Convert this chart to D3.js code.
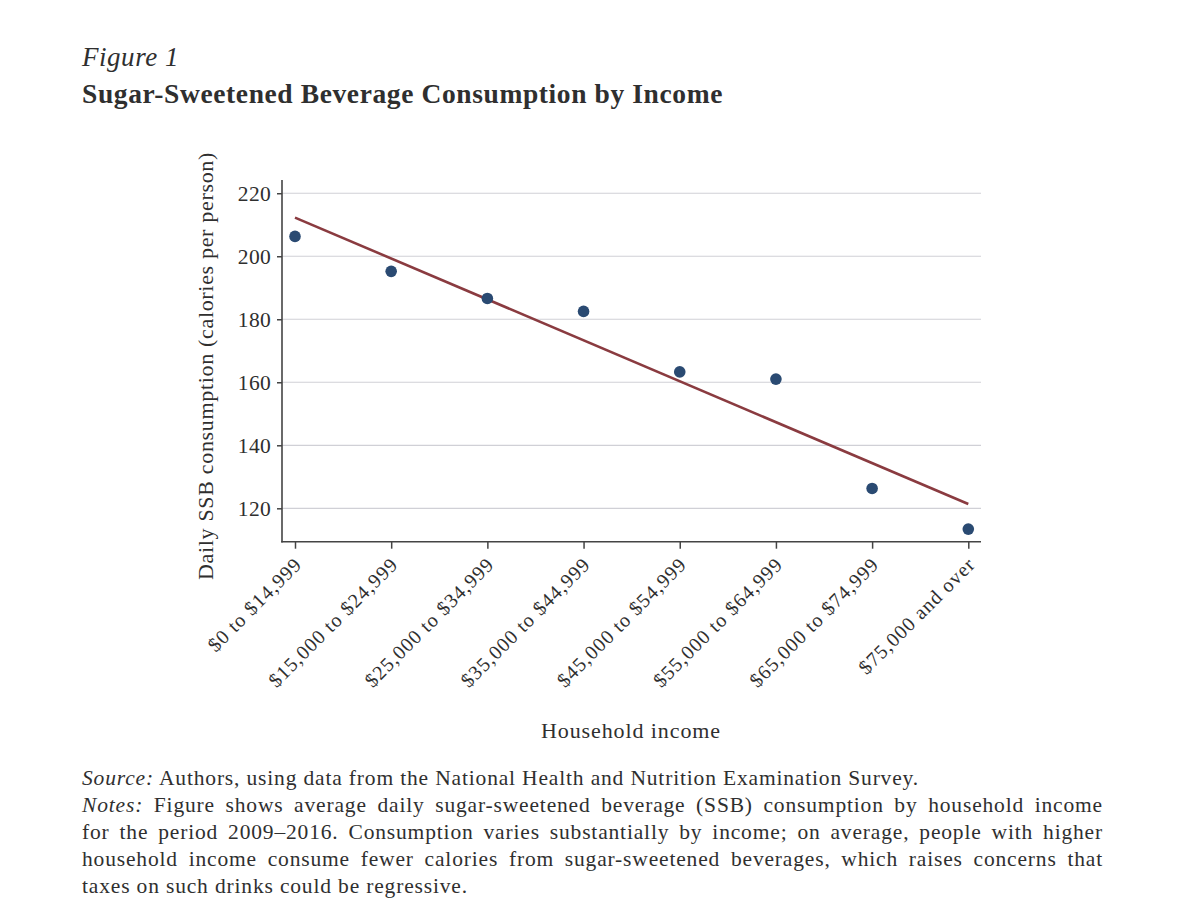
<!DOCTYPE html>
<html>
<head>
<meta charset="utf-8">
<script src="https://cdn.jsdelivr.net/npm/d3@7"></script>
<style>
  body { margin: 0; background: #fff; }
  text { font-family: "Liberation Serif", "DejaVu Serif", serif; fill: #2f2f2f; }
</style>
</head>
<body>
<svg id="chart" width="1200" height="912"></svg>
<script>
const svg = d3.select("#chart");

// data
var incomeGroups = ["$0 to $14,999", "$15,000 to $24,999", "$25,000 to $34,999", "$35,000 to $44,999",
                    "$45,000 to $54,999", "$55,000 to $64,999", "$65,000 to $74,999", "$75,000 and over"];
var ssbCalories = [206.3, 195.2, 186.6, 182.5, 163.3, 161.0, 126.3, 113.4];
var yTicks = [120, 140, 160, 180, 200, 220];

var figLabel = "Figure 1";
var figTitle = "Sugar-Sweetened Beverage Consumption by Income";
var yAxisLabel = "Daily SSB consumption (calories per person)";
var xAxisLabel = "Household income";
var sourceLead = "Source:";
var sourceText = " Authors, using data from the National Health and Nutrition Examination Survey.";
var notesLead = "Notes:";
var notesLines = [
  " Figure shows average daily sugar-sweetened beverage (SSB) consumption by household income",
  "for the period 2009\u20132016. Consumption varies substantially by income; on average, people with higher",
  "household income consume fewer calories from sugar-sweetened beverages, which raises concerns that",
  "taxes on such drinks could be regressive."
];

var data = incomeGroups.map((c, i) => ({cat: c, idx: i + 1, val: ssbCalories[i]}));

// least squares fit line over category index
var xm = d3.mean(data, d => d.idx), ym = d3.mean(data, d => d.val);
var slope = d3.sum(data, d => (d.idx - xm) * (d.val - ym)) / d3.sum(data, d => (d.idx - xm) ** 2);
var fitted = data.map(d => ({cat: d.cat, val: ym + slope * (d.idx - xm)}));

// the original face is wider than Liberation Serif, so spread letters to a target width
function spreadTo(t, width) {
  var w = t.node().getComputedTextLength();
  var n = t.text().length;
  t.style("letter-spacing", ((width - w) / n) + "px");
  return t;
}

// plot frame
var plot = {left: 282, right: 981, top: 180, bottom: 541.7};

var xScale = d3.scalePoint()
  .domain(incomeGroups)
  .range([295, 968.3]);

var yScale = d3.scaleLinear()
  .domain([109.4, 224.2])
  .range([plot.bottom, plot.top]);

// headings
spreadTo(svg.append("text").attr("x", 82).attr("y", 66)
  .style("font-style", "italic").style("font-size", "27px")
  .text(figLabel), 97);
spreadTo(svg.append("text").attr("x", 82).attr("y", 103)
  .style("font-weight", "bold").style("font-size", "27.5px")
  .text(figTitle), 641);

// gridlines
svg.append("g").selectAll("line").data(yTicks).join("line")
  .attr("x1", plot.left).attr("x2", plot.right)
  .attr("y1", d => yScale(d)).attr("y2", d => yScale(d))
  .attr("stroke", "#d0d0d6").attr("stroke-width", 1.2);

// y axis
var yAxis = d3.axisLeft(yScale).tickValues(yTicks).tickSize(5).tickPadding(6);
var yAxisG = svg.append("g").attr("transform", `translate(${plot.left},0)`).call(yAxis);
yAxisG.select(".domain").remove();
yAxisG.selectAll(".tick line").attr("stroke", "#444").attr("stroke-width", 1.5);
yAxisG.selectAll(".tick text")
  .style("font-family", "'Liberation Serif', serif").style("font-size", "21.5px")
  .style("letter-spacing", "0.3px").attr("fill", "#2f2f2f");
svg.append("line")
  .attr("x1", plot.left).attr("x2", plot.left)
  .attr("y1", plot.top).attr("y2", plot.bottom + 0.8)
  .attr("stroke", "#444").attr("stroke-width", 1.6);

// x axis
var xAxis = d3.axisBottom(xScale).tickSize(7).tickFormat("");
var xAxisG = svg.append("g").attr("transform", `translate(0,${plot.bottom})`).call(xAxis);
xAxisG.select(".domain").remove();
xAxisG.selectAll(".tick line").attr("stroke", "#444").attr("stroke-width", 1.5);
svg.append("line")
  .attr("x1", plot.left - 0.8).attr("x2", plot.right)
  .attr("y1", plot.bottom).attr("y2", plot.bottom)
  .attr("stroke", "#444").attr("stroke-width", 1.6);

svg.append("g").selectAll("text").data(incomeGroups).join("text")
  .attr("transform", d => `translate(${xScale(d) + 8},${plot.bottom + 24}) rotate(-45)`)
  .attr("text-anchor", "end")
  .style("font-size", "20px")
  .style("letter-spacing", "1px")
  .text(d => d);

// axis titles
spreadTo(svg.append("text")
  .attr("transform", `translate(213,${(152 + 580) / 2}) rotate(-90)`)
  .attr("text-anchor", "middle")
  .style("font-size", "22px")
  .text(yAxisLabel), 428);

spreadTo(svg.append("text")
  .attr("x", 631).attr("y", 738)
  .attr("text-anchor", "middle")
  .style("font-size", "22px")
  .text(xAxisLabel), 180);

// fit line
var lineGen = d3.line()
  .x(d => xScale(d.cat))
  .y(d => yScale(d.val));

svg.append("path")
  .datum([fitted[0], fitted[fitted.length - 1]])
  .attr("d", lineGen)
  .attr("fill", "none")
  .attr("stroke", "#8a3b40")
  .attr("stroke-width", 2.6);

// dots
svg.append("g").selectAll("circle").data(data).join("circle")
  .attr("cx", d => xScale(d.cat))
  .attr("cy", d => yScale(d.val))
  .attr("r", 5.8)
  .attr("fill", "#2a4a72");

// source and notes
var noteSize = "21.5px";
var leftX = 82, rightX = 1103;

function noteLine(y, lead, body) {
  var t = svg.append("text").attr("x", leftX).attr("y", y).style("font-size", noteSize);
  if (lead) t.append("tspan").style("font-style", "italic").text(lead);
  t.append("tspan").text(body);
  return t;
}

var src = noteLine(785, sourceLead, sourceText);
spreadTo(src, 837);
var ls = src.style("letter-spacing");

var notes = [
  noteLine(812, notesLead, notesLines[0]),
  noteLine(839, null, notesLines[1]),
  noteLine(866, null, notesLines[2]),
  noteLine(893, null, notesLines[3])
];
notes.forEach((t, i) => {
  t.style("letter-spacing", ls);
  if (i < notes.length - 1) {
    // justify the full lines to the right margin
    var w = t.node().getComputedTextLength();
    var gaps = t.text().trim().split(/\s+/).length - 1;
    t.style("word-spacing", ((rightX - leftX - w) / gaps) + "px");
  }
});
</script>
</body>
</html>
